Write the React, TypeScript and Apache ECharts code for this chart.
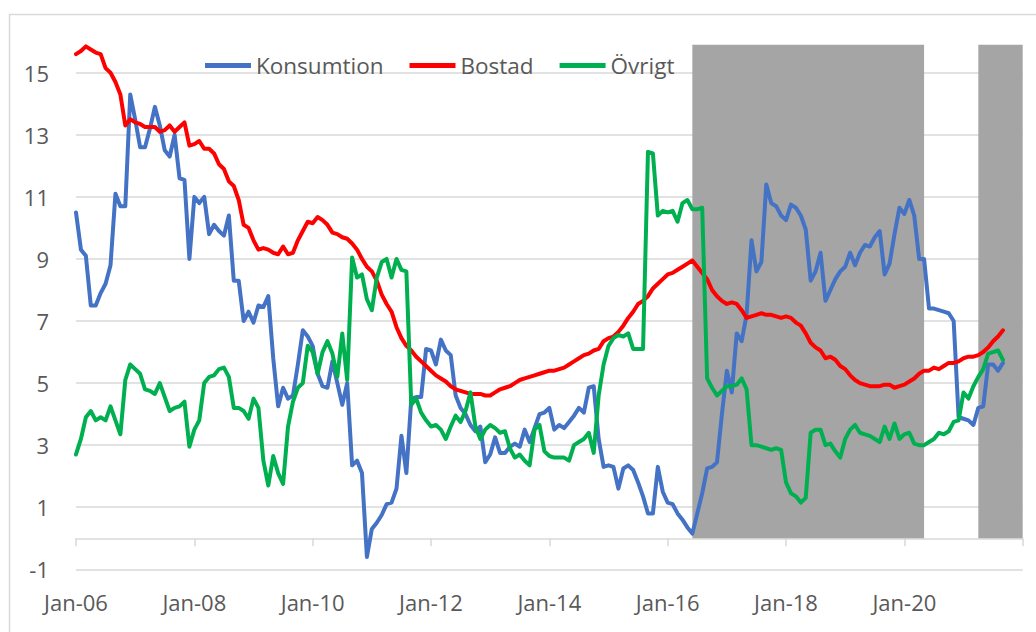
import React, { useEffect, useRef } from "react";
import * as echarts from "echarts";

// Monthly observations, Jan-06 (index 0) to Sep-21 (index 188)
const konsumtion: number[] = [
  10.5, 9.3, 9.1, 7.5, 7.5, 7.9, 8.2, 8.8, 11.1, 10.7,
  10.7, 14.3, 13.5, 12.6, 12.6, 13.2, 13.9, 13.3, 12.5, 12.3,
  13.0, 11.6, 11.55, 9.0, 11.0, 10.8, 11.0, 9.8, 10.1, 9.9,
  9.75, 10.4, 8.3, 8.3, 7.0, 7.3, 6.95, 7.5, 7.45, 7.8,
  5.8, 4.25, 4.85, 4.5, 4.6, 5.6, 6.7, 6.5, 6.2, 5.3,
  4.9, 4.85, 5.7, 5.0, 4.3, 5.0, 2.35, 2.5, 2.1, -0.6,
  0.3, 0.5, 0.75, 1.1, 1.15, 1.6, 3.3, 2.1, 4.5, 4.55,
  4.55, 6.1, 6.05, 5.6, 6.4, 6.05, 5.9, 4.6, 4.2, 4.0,
  3.65, 3.45, 3.6, 2.45, 2.7, 3.25, 2.75, 2.75, 2.95, 3.05,
  2.95, 3.5, 3.1, 3.55, 4.0, 4.05, 4.2, 3.5, 3.65, 3.55,
  3.75, 3.95, 4.2, 4.05, 4.85, 4.9, 3.2, 2.3, 2.35, 2.3,
  1.6, 2.25, 2.35, 2.2, 1.8, 1.35, 0.8, 0.8, 2.3, 1.5,
  1.15, 1.1, 0.8, 0.6, 0.35, 0.15, 0.8, 1.45, 2.25, 2.3,
  2.45, 4.0, 5.4, 4.7, 6.6, 6.35, 7.2, 9.6, 8.6, 8.9,
  11.4, 10.8, 10.7, 10.4, 10.25, 10.75, 10.65, 10.4, 9.95, 8.3,
  8.6, 9.2, 7.65, 8.0, 8.35, 8.6, 8.75, 9.2, 8.8, 9.2,
  9.45, 9.4, 9.7, 9.9, 8.5, 8.85, 9.8, 10.65, 10.45, 10.9,
  10.4, 9.0, 9.0, 7.4, 7.4, 7.35, 7.3, 7.25, 7.0, 3.9,
  3.85, 3.8, 3.65, 4.2, 4.25, 5.6, 5.6, 5.4, 5.65,
];

const bostad: number[] = [
  15.6, 15.7, 15.85, 15.75, 15.65, 15.6, 15.15, 15.0, 14.7, 14.3,
  13.3, 13.5, 13.4, 13.35, 13.25, 13.25, 13.25, 13.1, 13.15, 13.3,
  13.1, 13.25, 13.4, 12.65, 12.7, 12.8, 12.55, 12.55, 12.4, 12.05,
  11.9, 11.5, 11.35, 10.9, 10.1, 10.0, 9.6, 9.3, 9.35, 9.3,
  9.2, 9.15, 9.4, 9.15, 9.2, 9.6, 9.9, 10.2, 10.15, 10.35,
  10.25, 10.1, 9.85, 9.8, 9.7, 9.65, 9.5, 9.3, 9.0, 8.75,
  8.6, 8.3, 7.85, 7.55, 7.3, 6.8, 6.45, 6.2, 6.05, 5.85,
  5.7, 5.55, 5.4, 5.25, 5.15, 5.05, 4.9, 4.8, 4.75, 4.7,
  4.65, 4.65, 4.65, 4.6, 4.6, 4.7, 4.8, 4.85, 4.9, 5.0,
  5.1, 5.15, 5.2, 5.25, 5.3, 5.35, 5.4, 5.4, 5.45, 5.5,
  5.6, 5.7, 5.8, 5.9, 5.95, 6.05, 6.1, 6.35, 6.45, 6.5,
  6.65, 6.85, 7.1, 7.3, 7.55, 7.65, 7.8, 8.05, 8.2, 8.35,
  8.5, 8.55, 8.65, 8.75, 8.85, 8.95, 8.75, 8.55, 8.35, 8.0,
  7.8, 7.65, 7.55, 7.6, 7.55, 7.35, 7.1, 7.15, 7.2, 7.25,
  7.2, 7.2, 7.15, 7.1, 7.15, 7.1, 6.95, 6.85, 6.6, 6.3,
  6.15, 6.05, 5.8, 5.85, 5.75, 5.55, 5.45, 5.25, 5.1, 5.0,
  4.95, 4.9, 4.9, 4.9, 4.95, 4.95, 4.85, 4.9, 4.95, 5.05,
  5.15, 5.3, 5.4, 5.4, 5.5, 5.45, 5.55, 5.65, 5.65, 5.7,
  5.8, 5.85, 5.85, 5.9, 6.0, 6.15, 6.35, 6.5, 6.7,
];

const ovrigt: number[] = [
  2.7, 3.2, 3.9, 4.1, 3.8, 3.9, 3.8, 4.25, 3.8, 3.35,
  5.1, 5.6, 5.45, 5.3, 4.8, 4.75, 4.65, 5.0, 4.55, 4.1,
  4.2, 4.25, 4.4, 2.95, 3.5, 3.8, 5.0, 5.2, 5.25, 5.45,
  5.5, 5.2, 4.2, 4.2, 4.1, 3.85, 4.5, 4.2, 2.5, 1.7,
  2.65, 2.1, 1.75, 3.6, 4.4, 4.85, 5.0, 6.2, 6.0, 5.3,
  6.0, 6.35, 5.95, 5.2, 6.6, 5.1, 9.05, 8.4, 8.5, 7.7,
  7.35, 8.4, 8.9, 9.0, 8.4, 9.0, 8.65, 8.6, 4.3, 4.5,
  4.05, 3.8, 3.6, 3.65, 3.5, 3.2, 3.6, 3.95, 3.75, 4.1,
  4.7, 3.6, 3.2, 3.5, 3.65, 3.55, 3.4, 3.45, 2.9, 2.6,
  2.7, 2.5, 2.35, 3.5, 3.65, 2.8, 2.65, 2.6, 2.6, 2.6,
  2.5, 3.0, 3.1, 3.2, 3.4, 2.75, 4.6, 5.6, 6.2, 6.45,
  6.55, 6.5, 6.6, 6.1, 6.1, 6.1, 12.45, 12.4, 10.4, 10.55,
  10.5, 10.55, 10.2, 10.8, 10.9, 10.6, 10.6, 10.65, 5.15, 4.85,
  4.6, 4.75, 4.9, 4.9, 4.95, 5.15, 4.8, 3.0, 3.0, 2.95,
  2.9, 2.85, 2.9, 2.85, 1.8, 1.45, 1.35, 1.15, 1.3, 3.4,
  3.5, 3.5, 3.0, 3.05, 2.8, 2.6, 3.2, 3.5, 3.65, 3.4,
  3.35, 3.3, 3.2, 3.1, 3.6, 3.2, 3.7, 3.2, 3.35, 3.4,
  3.05, 3.0, 3.0, 3.1, 3.2, 3.4, 3.35, 3.45, 3.75, 3.8,
  4.7, 4.5, 4.9, 5.2, 5.45, 5.95, 6.0, 6.05, 5.75,
];

const seriesNames = ["Konsumtion", "Bostad", "Övrigt"];
const xTickLabels = ["Jan-06", "Jan-08", "Jan-10", "Jan-12", "Jan-14", "Jan-16", "Jan-18", "Jan-20"];
const yTickValues = [-1, 1, 3, 5, 7, 9, 11, 13, 15];
// Shaded periods (month index from Jan-06)
const shadeStart = [125, 183];
const shadeEnd = [172, 192];
const shadeTop = 15.9;

const FONT = "'Open Sans', 'Liberation Sans', sans-serif";
const TEXT = "#595959";
const GRID = "#d9d9d9";

export default function App() {
  const ref = useRef<HTMLDivElement>(null);

  useEffect(() => {
    if (!ref.current) return;
    const chart = echarts.init(ref.current, undefined, { renderer: "svg" });
    const toPts = (arr: number[]) => arr.map((v, i) => [i, v]);
    const lineSeries = (name: string, data: number[], color: string, z: number) => ({
      name,
      type: "line",
      data: toPts(data),
      showSymbol: false,
      symbol: "none",
      z,
      lineStyle: { color, width: 4, cap: "round", join: "round" },
      itemStyle: { color },
    });

    chart.setOption({
      animation: false,
      textStyle: { fontFamily: FONT },
      graphic: [
        {
          type: "rect",
          shape: { x: 9.5, y: 14.5, width: 1100, height: 700 },
          style: { fill: "none", stroke: GRID, lineWidth: 1.5 },
          silent: true,
          z: 0,
        },
      ],
      legend: {
        data: seriesNames,
        left: 205,
        top: 54,
        padding: 0,
        icon: "rect",
        itemWidth: 46,
        itemHeight: 5,
        itemGap: 26,
        textStyle: { fontFamily: FONT, fontSize: 22.5, color: TEXT },
      },
      grid: { left: 76, right: 13.3, top: 41.7, bottom: 62.7, outerBoundsMode: "none" },
      xAxis: [
        {
          type: "value",
          min: 0,
          max: 192,
          interval: 24,
          axisLine: { onZero: true, lineStyle: { color: GRID, width: 1.5 } },
          axisTick: { show: true, length: 8, lineStyle: { color: GRID, width: 1.5 } },
          axisLabel: { show: false },
          splitLine: { show: false },
        },
        {
          type: "value",
          position: "bottom",
          min: 0,
          max: 192,
          interval: 24,
          axisLine: { show: false, onZero: false },
          axisTick: { show: false },
          splitLine: { show: false },
          axisLabel: {
            show: true,
            margin: 22,
            fontFamily: FONT,
            fontSize: 22,
            color: TEXT,
            formatter: (v: number) => xTickLabels[Math.round(v / 24)] ?? "",
          },
        },
      ],
      yAxis: {
        type: "value",
        min: -1,
        max: 16,
        interval: 2,
        axisLine: { show: false },
        axisTick: { show: false },
        axisLabel: {
          margin: 27,
          fontFamily: FONT,
          fontSize: 22,
          color: TEXT,
          formatter: (v: number) => (yTickValues.includes(v) ? String(v) : ""),
        },
        splitLine: {
          show: true,
          lineStyle: {
            color: [GRID, GRID, GRID, GRID, GRID, GRID, GRID, GRID, GRID, "rgba(0,0,0,0)"],
            width: 1.5,
          },
        },
      },
      series: [
        {
          name: "shade",
          type: "line",
          data: [],
          z: 1,
          silent: true,
          markArea: {
            silent: true,
            itemStyle: { color: "#a5a5a5", opacity: 1 },
            data: shadeStart.map((s, i) => [
              { xAxis: s, yAxis: 0 },
              { xAxis: shadeEnd[i], yAxis: shadeTop },
            ]),
          },
        },
        lineSeries(seriesNames[0], konsumtion, "#4472C4", 3),
        lineSeries(seriesNames[1], bostad, "#FF0000", 4),
        lineSeries(seriesNames[2], ovrigt, "#00B050", 5),
      ],
    });

    return () => chart.dispose();
  }, []);

  return (
    <div
      ref={ref}
      style={{ position: "absolute", left: 0, top: 0, width: 1036, height: 632, background: "#fff" }}
    />
  );
}
